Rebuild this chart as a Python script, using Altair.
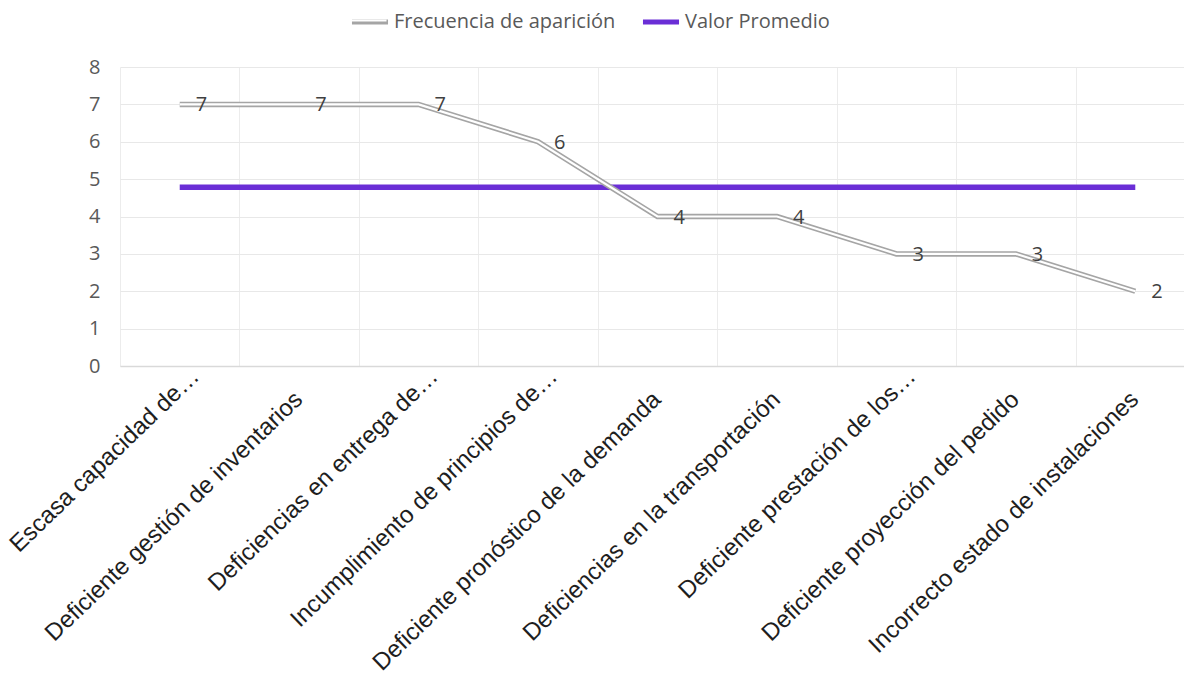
import altair as alt
import pandas as pd

# Problem categories (x axis) and how often each one appeared
categories = [
    "Escasa capacidad de…",
    "Deficiente gestión de inventarios",
    "Deficiencias en entrega de…",
    "Incumplimiento de principios de…",
    "Deficiente pronóstico de la demanda",
    "Deficiencias en la transportación",
    "Deficiente prestación de los…",
    "Deficiente proyección del pedido",
    "Incorrecto estado de instalaciones",
]
frequency = [7, 7, 7, 6, 4, 4, 3, 3, 2]
average_value = round(sum(frequency) / len(frequency), 2)

freq_name = "Frecuencia de aparición"
avg_name = "Valor Promedio"

freq_df = pd.DataFrame({"cat": categories, "value": frequency, "serie": freq_name})
avg_df = pd.DataFrame({"cat": categories, "value": [average_value] * len(categories), "serie": avg_name})

GRAY = "#a5a5a5"
PURPLE = "#6a2ed6"
NUM_FONT = "Open Sans"
TRUNCATED = "indexof(datum.label, '…') >= 0"

x_enc = alt.X(
    "cat:N",
    sort=categories,
    title=None,
    bandPosition=0.5,
    scale=alt.Scale(type="band", range=[0, 1075], paddingInner=0, paddingOuter=0),
    axis=alt.Axis(
        labelAngle=-44,
        labelAlign="right",
        labelBaseline="top",
        labelFont="Liberation Sans",
        labelFontSize=24,
        labelColor="#1e1e1e",
        labelPadding={"condition": {"test": TRUNCATED, "value": -2}, "value": 21},
        labelOffset={"condition": {"test": TRUNCATED, "value": 7}, "value": -9},
        labelLimit=600,
        labelOverlap=False,
        ticks=False,
        tickSize=0,
        tickBand="extent",
        domainColor="#d9d9d9",
        domainWidth=1.5,
        grid=True,
        gridColor="#ececec",
    ),
)

y_enc = alt.Y(
    "value:Q",
    title=None,
    scale=alt.Scale(domain=[0, 8], nice=False),
    axis=alt.Axis(
        values=list(range(0, 9)),
        labelFont=NUM_FONT,
        labelFontSize=20,
        labelColor="#595959",
        labelPadding=20,
        ticks=False,
        domain=False,
        gridColor="#e8e8e8",
    ),
)

legend_common = dict(
    title=None,
    orient="none",
    legendX=229,
    legendY=-66,
    direction="horizontal",
    symbolType="stroke",
    symbolSize=1300,
    labelFont=NUM_FONT,
    labelFontSize=20,
    labelLimit=400,
    labelOffset=3,
)

color_enc = alt.Color(
    "serie:N",
    scale=alt.Scale(domain=[freq_name, avg_name], range=[GRAY, PURPLE]),
    legend=alt.Legend(
        symbolStrokeWidth=5,
        labelColor="#595959",
        columnPadding=16,
        **legend_common,
    ),
)

# Outer gray stroke of the double line
freq_outer = alt.Chart(freq_df).mark_line(strokeWidth=5.5, strokeJoin="miter").encode(
    x=x_enc, y=y_enc, color=color_enc
)

# Thin white core that turns the gray stroke into a double line
freq_inner = alt.Chart(freq_df).mark_line(strokeWidth=2.2, color="white", strokeJoin="miter").encode(
    x=x_enc, y=y_enc
)

# White core drawn over the legend symbol of the double line
legend_core = alt.Chart(freq_df).mark_line(opacity=0).encode(
    x=x_enc,
    y=y_enc,
    strokeDash=alt.StrokeDash(
        "serie:N",
        scale=alt.Scale(domain=[freq_name], range=[[1, 0]]),
        legend=alt.Legend(
            symbolStrokeWidth=2.2,
            symbolStrokeColor="white",
            symbolOpacity=1,
            labelExpr="''",
            **legend_common,
        ),
    ),
)

avg_line = alt.Chart(avg_df).mark_line(strokeWidth=5.5).encode(
    x=x_enc, y=y_enc, color=color_enc
)

labels = alt.Chart(freq_df).mark_text(
    align="left", baseline="middle", dx=16, dy=1, font=NUM_FONT, fontSize=20, color="#404040"
).encode(x=x_enc, y=y_enc, text="value:Q")

chart = (
    alt.layer(avg_line, freq_outer, freq_inner, legend_core, labels)
    .properties(
        width=1064,
        height=299,
        autosize=alt.AutoSizeParams(type="none"),
        padding={"left": 120, "top": 67, "right": 0, "bottom": 310},
        background="white",
    )
    .configure_view(stroke=None)
)

chart.save("out.html", embed_options={"renderer": "svg", "actions": False})
